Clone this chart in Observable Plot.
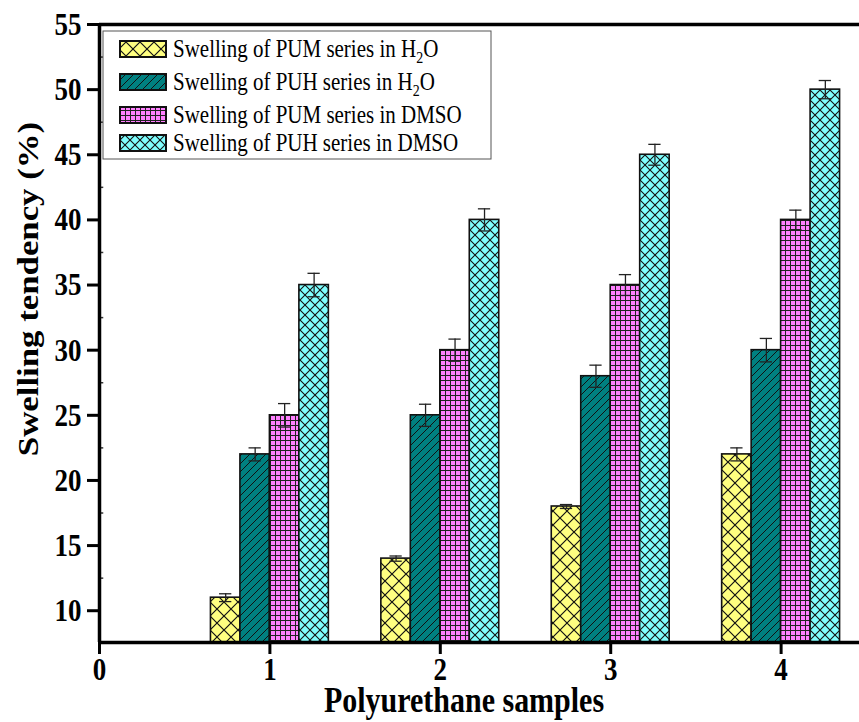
<!DOCTYPE html>
<html><head><meta charset="utf-8">
<script src="https://cdn.jsdelivr.net/npm/d3@7"></script>
<script src="https://cdn.jsdelivr.net/npm/@observablehq/plot@0.6"></script>
<style>body{margin:0;background:#fff} #chart{width:859px;height:722px}</style>
</head><body><div id="chart"></div>
<script>
// ---- data ----
const samples = [1, 2, 3, 4];
const seriesNames = ["Swelling of PUM series in H2O", "Swelling of PUH series in H2O", "Swelling of PUM series in DMSO", "Swelling of PUH series in DMSO"];
const pumH2O = [11, 14, 18, 22];
const puhH2O = [22, 25, 28, 30];
const pumDMSO = [25, 30, 35, 40];
const puhDMSO = [35, 40, 45, 50];
const pumH2OErr = [0.3, 0.2, 0.15, 0.5];
const puhH2OErr = [0.5, 0.85, 0.85, 0.9];
const pumDMSOErr = [0.9, 0.85, 0.8, 0.75];
const puhDMSOErr = [0.9, 0.85, 0.8, 0.7];
const xTicks = [0, 1, 2, 3, 4];
const yTicks = [10, 15, 20, 25, 30, 35, 40, 45, 50, 55];
const yMinorTicks = [12.5, 17.5, 22.5, 27.5, 32.5, 37.5, 42.5, 47.5, 52.5];
const xLabel = "Polyurethane samples";
const yLabel = "Swelling tendency (%)";

const values = [pumH2O, puhH2O, pumDMSO, puhDMSO];
const errors = [pumH2OErr, puhH2OErr, pumDMSOErr, puhDMSOErr];
const yDomain = [7.56, 55];
const xDomain = [0, 4.46];
const barW = 0.173;   // bar width in sample units
const capHalf = 0.036;

const rows = [];
values.forEach((vals, k) => vals.forEach((v, j) => {
  const xc = samples[j] + (k - 1.5) * barW;
  rows.push({k, series: seriesNames[k], sample: samples[j], value: v, err: errors[k][j], xc, x1: xc - barW / 2, x2: xc + barW / 2});
}));

const barMarks = values.map((_, k) => Plot.rect(rows.filter(d => d.k === k), {
  x1: "x1", x2: "x2", y1: 0, y2: "value", fill: `url(#pat${k})`, stroke: "#111", strokeWidth: 1.6, clip: true
}));

const plot = Plot.plot({
  width: 859, height: 722,
  marginTop: 24, marginBottom: 80, marginLeft: 99, marginRight: 0,
  x: {domain: xDomain},
  y: {domain: yDomain},
  style: {fontFamily: "'Liberation Serif', 'Times New Roman', serif", background: "white", color: "black"},
  marks: [
    ...barMarks,
    Plot.ruleX(rows, {x: "xc", y1: d => d.value - d.err, y2: d => d.value + d.err, stroke: "#222", strokeWidth: 1.3}),
    Plot.ruleY(rows, {y: d => d.value + d.err, x1: d => d.xc - capHalf, x2: d => d.xc + capHalf, stroke: "#222", strokeWidth: 1.3}),
    Plot.ruleY(rows, {y: d => d.value - d.err, x1: d => d.xc - capHalf, x2: d => d.xc + capHalf, stroke: "#222", strokeWidth: 1.3}),
    Plot.ruleY(yMinorTicks, {x1: 0, x2: 0.025, stroke: "#333", strokeWidth: 1.5}),
    Plot.axisY(yTicks, {tickSize: 12, strokeWidth: 3, tickPadding: 6, fontSize: 27, fontWeight: "bold", label: null, tickFormat: d => String(d)}),
    Plot.axisX(xTicks, {tickSize: 12, strokeWidth: 3, tickPadding: 2, fontSize: 27, fontWeight: "bold", label: null, tickFormat: d => String(d)}),
    Plot.ruleX([xDomain[0]], {stroke: "black", strokeWidth: 3.5}),
    Plot.ruleY([yDomain[0], yDomain[1]], {stroke: "black", strokeWidth: 3.5})
  ]
});

const svg = d3.select(plot);
// patterns
const defs = svg.insert("defs", ":first-child");
function pat(id, size, bg, d, stroke, sw) {
  const p = defs.append("pattern").attr("id", id).attr("patternUnits", "userSpaceOnUse").attr("width", size).attr("height", size);
  p.append("rect").attr("width", size).attr("height", size).attr("fill", bg);
  p.append("path").attr("d", d).attr("stroke", stroke).attr("stroke-width", sw).attr("fill", "none");
}
pat("pat0", 14, "#FFFF80", "M0,0L14,14M14,0L0,14", "#111", 1.2);
pat("pat1", 8, "#008080", "M0,8L8,0M-2,2L2,-2M6,10L10,6", "#111", 1);
pat("pat2", 5, "#FF80FF", "M0,0.5H5M0.5,0V5", "#222", 1);
pat("pat3", 10, "#80FFFF", "M0,0L10,10M10,0L0,10", "#111", 1.1);

// stretch tick labels vertically like the reference
svg.selectAll('g[aria-label="y-axis tick label"] text, g[aria-label="x-axis tick label"] text').each(function() {
  const t = this.getAttribute("transform") || "";
  this.setAttribute("transform", t + " scale(1,1.2)");
});

// axis labels
svg.append("text").attr("transform", "translate(464,712) scale(1,1.2)")
  .attr("text-anchor", "middle").attr("font-size", 30).attr("font-weight", "bold").text(xLabel);
svg.append("text").attr("transform", "translate(38,289) rotate(-90) scale(1.2,1)")
  .attr("text-anchor", "middle").attr("font-size", 29).attr("font-weight", "bold").text(yLabel);

// legend
const lg = svg.append("g").attr("text-anchor", "start");
lg.append("rect").attr("x", 103).attr("y", 31).attr("width", 388).attr("height", 128)
  .attr("fill", "white").attr("stroke", "#555").attr("stroke-width", 1);
const swY = [41, 74, 107, 135];
seriesNames.forEach((name, k) => {
  lg.append("rect").attr("x", 120).attr("y", swY[k]).attr("width", 46).attr("height", 16)
    .attr("fill", `url(#pat${k})`).attr("stroke", "#111").attr("stroke-width", 2);
  const t = lg.append("text").attr("text-anchor", "start")
    .attr("transform", `translate(173,${swY[k] + 16}) scale(1,1.2)`).attr("font-size", 21);
  const m = name.match(/^(.*H)2(O)$/);
  if (m) {
    t.append("tspan").text(m[1]);
    t.append("tspan").attr("dy", 5).attr("font-size", 14).text("2");
    t.append("tspan").attr("dy", -5).text(m[2]);
  } else t.text(name);
});

document.getElementById("chart").appendChild(plot);
</script>
</body></html>
